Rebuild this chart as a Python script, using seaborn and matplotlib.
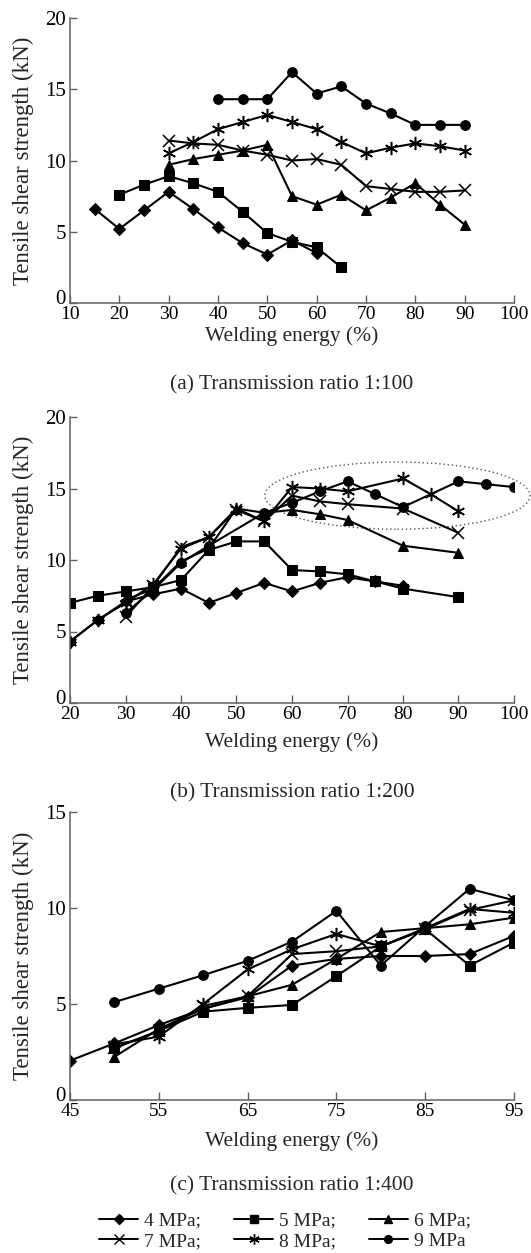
import numpy as np
import pandas as pd
import matplotlib
matplotlib.use("Agg")
import matplotlib.pyplot as plt
import matplotlib.transforms as mtransforms
from matplotlib.patches import Ellipse
from matplotlib.lines import Line2D
import seaborn as sns

# ---------------- data ----------------
pressures = ["4 MPa", "5 MPa", "6 MPa", "7 MPa", "8 MPa", "9 MPa"]

# (a) Transmission ratio 1:100
a_x4 = [15, 20, 25, 30, 35, 40, 45, 50, 55, 60]
a_y4 = [6.6, 5.2, 6.5, 7.8, 6.6, 5.3, 4.2, 3.4, 4.4, 3.5]
a_x5 = [20, 25, 30, 35, 40, 45, 50, 55, 60, 65]
a_y5 = [7.6, 8.3, 8.9, 8.4, 7.8, 6.4, 4.9, 4.3, 3.9, 2.5]
a_x6 = [30, 35, 40, 45, 50, 55, 60, 65, 70, 75, 80, 85, 90]
a_y6 = [9.7, 10.1, 10.4, 10.7, 11.1, 7.5, 6.9, 7.6, 6.5, 7.4, 8.4, 6.9, 5.5]
a_x7 = [30, 35, 40, 45, 50, 55, 60, 65, 70, 75, 80, 85, 90]
a_y7 = [11.4, 11.2, 11.1, 10.7, 10.4, 10.0, 10.1, 9.7, 8.2, 8.0, 7.8, 7.8, 7.9]
a_x8 = [30, 35, 40, 45, 50, 55, 60, 65, 70, 75, 80, 85, 90]
a_y8 = [10.5, 11.3, 12.2, 12.7, 13.2, 12.7, 12.2, 11.3, 10.5, 10.9, 11.2, 11.0, 10.7]
a_x9 = [40, 45, 50, 55, 60, 65, 70, 75, 80, 85, 90]
a_y9 = [14.3, 14.3, 14.3, 16.2, 14.7, 15.2, 14.0, 13.3, 12.5, 12.5, 12.5]

# (b) Transmission ratio 1:200
b_x4 = [20, 25, 30, 35, 40, 45, 50, 55, 60, 65, 70, 75, 80]
b_y4 = [4.3, 5.8, 7.1, 7.6, 8.0, 7.0, 7.7, 8.4, 7.8, 8.4, 8.8, 8.5, 8.2]
b_x5 = [20, 25, 30, 35, 40, 45, 50, 55, 60, 65, 70, 75, 80, 90]
b_y5 = [7.0, 7.5, 7.8, 8.1, 8.6, 10.7, 11.3, 11.3, 9.3, 9.2, 9.0, 8.5, 8.0, 7.4]
b_x6 = [30, 35, 40, 45, 50, 55, 60, 65, 70, 80, 90]
b_y6 = [7.2, 8.0, 9.9, 10.8, 13.6, 13.3, 13.5, 13.2, 12.8, 11.0, 10.5]
b_x7 = [30, 35, 40, 45, 50, 55, 60, 65, 70, 80, 90]
b_y7 = [6.0, 8.2, 10.9, 11.6, 13.5, 12.7, 14.5, 14.1, 13.9, 13.6, 11.9]
b_x8 = [20, 25, 30, 35, 40, 45, 50, 55, 60, 65, 70, 80, 85, 90]
b_y8 = [4.3, 5.8, 7.0, 8.3, 10.8, 11.6, 13.6, 12.7, 15.1, 15.0, 14.8, 15.7, 14.6, 13.4]
b_x9 = [30, 35, 40, 45, 55, 60, 65, 70, 75, 80, 90, 95, 100]
b_y9 = [6.3, 7.9, 9.8, 11.0, 13.3, 14.0, 14.8, 15.5, 14.6, 13.7, 15.5, 15.3, 15.1]

# (c) Transmission ratio 1:400
c_x4 = [45, 50, 55, 60, 65, 70, 75, 80, 85, 90, 95]
c_y4 = [2.05, 2.95, 3.9, 4.75, 5.35, 7.0, 7.35, 7.5, 7.5, 7.6, 8.55]
c_x5 = [50, 55, 60, 65, 70, 75, 80, 85, 90, 95]
c_y5 = [2.7, 3.6, 4.6, 4.8, 4.95, 6.45, 8.0, 8.9, 7.0, 8.2]
c_x6 = [50, 55, 60, 65, 70, 75, 80, 85, 90, 95]
c_y6 = [2.25, 3.7, 4.75, 5.4, 6.0, 7.35, 8.75, 8.95, 9.15, 9.5]
c_x7 = [50, 55, 60, 65, 70, 75, 80, 85, 90, 95]
c_y7 = [2.7, 3.6, 4.9, 5.4, 7.6, 7.75, 8.0, 8.9, 9.9, 10.4]
c_x8 = [50, 55, 60, 65, 70, 75, 80, 85, 90, 95]
c_y8 = [2.9, 3.3, 5.0, 6.8, 7.85, 8.65, 8.0, 8.95, 9.95, 9.75]
c_x9 = [50, 55, 60, 65, 70, 75, 80, 85, 90, 95]
c_y9 = [5.1, 5.8, 6.5, 7.25, 8.25, 9.85, 7.0, 9.05, 11.0, 10.4]

panels = [
    dict(xs=[a_x4, a_x5, a_x6, a_x7, a_x8, a_x9], ys=[a_y4, a_y5, a_y6, a_y7, a_y8, a_y9],
         xlim=(10, 100), xticks=list(range(10, 101, 10)), ylim=(0, 20), yticks=[0, 5, 10, 15, 20],
         caption="(a) Transmission ratio 1:100"),
    dict(xs=[b_x4, b_x5, b_x6, b_x7, b_x8, b_x9], ys=[b_y4, b_y5, b_y6, b_y7, b_y8, b_y9],
         xlim=(20, 100), xticks=list(range(20, 101, 10)), ylim=(0, 20), yticks=[0, 5, 10, 15, 20],
         caption="(b) Transmission ratio 1:200"),
    dict(xs=[c_x4, c_x5, c_x6, c_x7, c_x8, c_x9], ys=[c_y4, c_y5, c_y6, c_y7, c_y8, c_y9],
         xlim=(45, 95), xticks=list(range(45, 96, 10)), ylim=(0, 15), yticks=[0, 5, 10, 15],
         caption="(c) Transmission ratio 1:400"),
]

# ---------------- style ----------------
sns.set_style("ticks")
plt.rcParams["font.family"] = ["Liberation Serif", "DejaVu Serif"]

markers = ["D", "s", "^", "x", (6, 2, 0), "o"]
msizes = [6.5, 6.5, 7.5, 8.5, 9.5, 7]

fig = plt.figure(figsize=(5.31, 12.53), dpi=100)
W, H = 531, 1253
boxes = [(70, 18, 514, 303), (70, 417, 514, 703), (70, 812, 514, 1100)]
label_y = [336, 742, 1141]
caption_y = [385, 793, 1186]
spine_col = "#606060"

for k, (p, (l, t, r, b)) in enumerate(zip(panels, boxes)):
    ax = fig.add_axes([l / W, 1 - b / H, (r - l) / W, (b - t) / H])
    for i, name in enumerate(pressures):
        df = pd.DataFrame({"x": p["xs"][i], "y": p["ys"][i]})
        m = markers[i]
        kw = dict(markerfacecolor="black", markeredgecolor="black")
        if m == "x" or isinstance(m, tuple):
            kw = dict(markeredgecolor="black", markeredgewidth=1.1)
        sns.lineplot(data=df, x="x", y="y", ax=ax, color="black", lw=1.5,
                     marker=m, markersize=msizes[i], sort=False, estimator=None,
                     legend=False, **kw)
    ax.set_xlim(*p["xlim"])
    ax.set_ylim(*p["ylim"])
    ax.set_xticks(p["xticks"])
    ax.set_yticks(p["yticks"])
    sns.despine(ax=ax)
    for s in ["left", "bottom"]:
        ax.spines[s].set_color(spine_col)
        ax.spines[s].set_linewidth(1.1)
    ax.tick_params(axis="x", direction="in", length=6, width=1.0, color=spine_col,
                   labelsize=14, pad=2, labelcolor="black")
    ax.tick_params(axis="y", direction="in", length=5, width=1.0, color=spine_col,
                   labelsize=15, pad=3, labelcolor="black")
    # lift the "0" label a little, as in the original
    t0 = ax.yaxis.get_major_ticks()[0].label1
    t0.set_transform(t0.get_transform() +
                     mtransforms.ScaledTranslation(0, 6 / 100, fig.dpi_scale_trans))
    ax.set_xlabel("Welding energy (%)", fontsize=15.5)
    ax.xaxis.label.set_va("center")
    ax.xaxis.set_label_coords(0.5, -(label_y[k] - b) / (b - t))
    ax.set_ylabel("Tensile shear strength (kN)", fontsize=16.5)
    ax.yaxis.label.set_va("center")
    ax.yaxis.set_label_coords((23 - l) / (r - l), 0.5)
    ax.text(0.5, -(caption_y[k] - b) / (b - t), p["caption"], transform=ax.transAxes,
            ha="center", va="center", fontsize=15.5)
    if p["caption"].startswith("(b)"):
        e = Ellipse((79.0, 14.5), 47.8, 4.7, fill=False, ls=(0, (1, 2)),
                    ec="#555555", lw=1.0, clip_on=False)
        ax.add_patch(e)

handles = []
labels_leg = ["4 MPa;", "5 MPa;", "6 MPa;", "7 MPa;", "8 MPa;", "9 MPa"]
for i in range(6):
    m = markers[i]
    h = Line2D([], [], color="black", lw=1.4, marker=m, markersize=msizes[i] * 0.8,
               markerfacecolor="black", markeredgecolor="black")
    handles.append(h)
order = [0, 3, 1, 4, 2, 5]
fig.legend([handles[k] for k in order], [labels_leg[k] for k in order],
           ncol=3, loc="center", bbox_to_anchor=(285 / W, 1 - 1231 / H),
           frameon=False, fontsize=14, handlelength=2.0, handletextpad=0.3,
           columnspacing=1.7, labelspacing=0.15, borderpad=0)

fig.savefig("out.png", dpi=100)
